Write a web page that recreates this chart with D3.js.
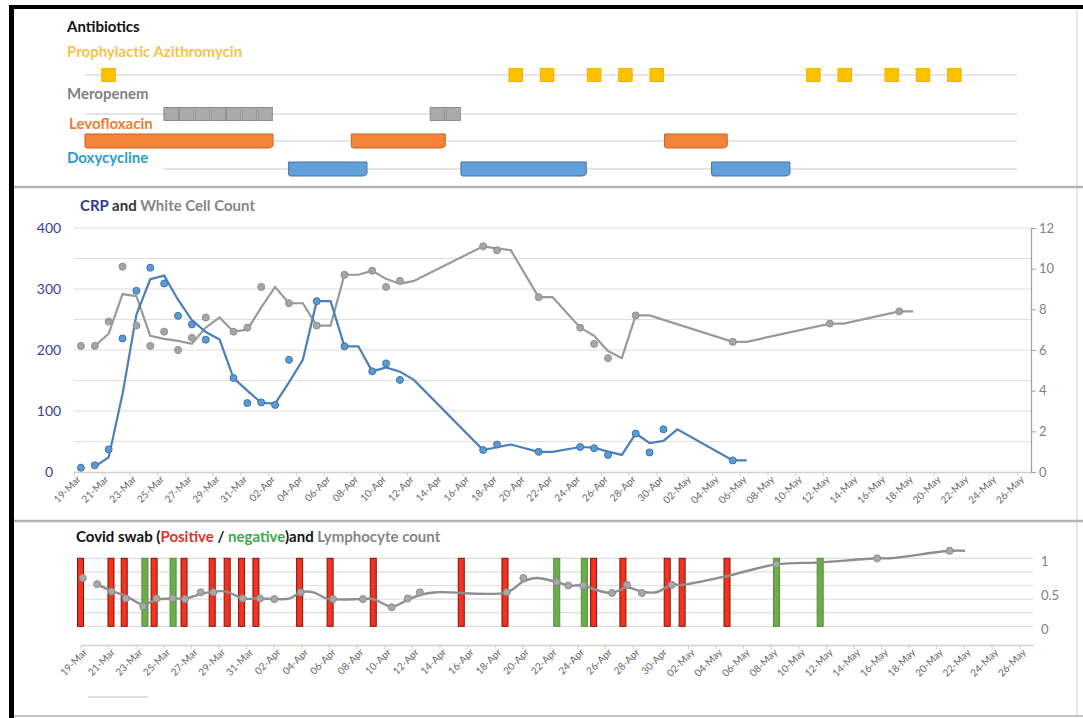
<!DOCTYPE html>
<html>
<head>
<meta charset="utf-8">
<script src="https://cdn.jsdelivr.net/npm/d3@7"></script>
<style>
  body { margin: 0; background: #fff; }
  svg { display: block; font-family: Lato, "Open Sans", sans-serif; }
</style>
</head>
<body>
<svg id="chart" width="1083" height="718"></svg>
<script>
// ---------- data ----------
// antibiotics (one cell per day of treatment)
const azithroDays = ["20-Mar","15-Apr","17-Apr","20-Apr","22-Apr","24-Apr","04-May","06-May","09-May","11-May","13-May"];
const meropenemDays = ["24-Mar","25-Mar","26-Mar","27-Mar","28-Mar","29-Mar","30-Mar","10-Apr","11-Apr"];
const levoStart = ["19-Mar","05-Apr","25-Apr"];
const levoEnd   = ["30-Mar","10-Apr","28-Apr"];
const doxyStart = ["01-Apr","12-Apr","28-Apr"];
const doxyEnd   = ["05-Apr","19-Apr","02-May"];

// CRP (left axis) and white cell count (right axis)
const crpDates = ["19-Mar","20-Mar","21-Mar","22-Mar","23-Mar","24-Mar","25-Mar","26-Mar","27-Mar","28-Mar",
  "30-Mar","31-Mar","01-Apr","02-Apr","03-Apr","05-Apr","07-Apr","09-Apr","10-Apr","11-Apr",
  "17-Apr","18-Apr","21-Apr","24-Apr","25-Apr","26-Apr","28-Apr","29-Apr","30-Apr","05-May"];
const crpValues = [7, 11, 37, 219, 297, 335, 309, 256, 242, 217,
  154, 113, 114, 110, 184, 280, 206, 165, 178, 151,
  36, 45, 33, 41, 39, 28, 63, 32, 70, 19];
const wccDates = ["19-Mar","20-Mar","21-Mar","22-Mar","23-Mar","24-Mar","25-Mar","26-Mar","27-Mar","28-Mar",
  "30-Mar","31-Mar","01-Apr","03-Apr","05-Apr","07-Apr","09-Apr","10-Apr","11-Apr",
  "17-Apr","18-Apr","21-Apr","24-Apr","25-Apr","26-Apr","28-Apr","05-May","12-May","17-May"];
const wccValues = [6.2, 6.2, 7.4, 10.1, 7.2, 6.2, 6.9, 6.0, 6.6, 7.6,
  6.9, 7.1, 9.1, 8.3, 7.2, 9.7, 9.9, 9.1, 9.4,
  11.1, 10.9, 8.6, 7.1, 6.3, 5.6, 7.7, 6.4, 7.3, 7.9];

// covid swabs (+ positive, - negative) with time of swab
const swabTimes = ["19-Mar 00","21-Mar 05","22-Mar 04","23-Mar 16","24-Mar 08","25-Mar 17","26-Mar 12","28-Mar 13",
  "29-Mar 15","30-Mar 16","31-Mar 17","03-Apr 21","06-Apr 02","09-Apr 05","15-Apr 14","18-Apr 18",
  "22-Apr 12","24-Apr 12","25-Apr 04","27-Apr 07","30-Apr 12","01-May 14","04-May 20","08-May 10","11-May 14"];
const swabResults = ["+","+","+","-","+","-","+","+","+","+","+","+","+","+","+","+","-","-","+","+","+","+","+","-","-"];

// lymphocyte count: markers and the smoothed line as drawn
const lymphTimes = ["19-Mar 04","20-Mar 05","21-Mar 06","22-Mar 07","23-Mar 13","24-Mar 12","25-Mar 16","26-Mar 14",
  "27-Mar 17","28-Mar 15","30-Mar 18","01-Apr 00","02-Apr 01","03-Apr 23","06-Apr 07","08-Apr 11",
  "10-Apr 13","11-Apr 17","12-Apr 14","18-Apr 21","20-Apr 02","22-Apr 12","23-Apr 08","24-Apr 10",
  "26-Apr 12","27-Apr 14","28-Apr 16","30-Apr 20","08-May 10","15-May 17","20-May 23"];
const lymphValues = [0.71, 0.62, 0.51, 0.41, 0.29, 0.41, 0.41, 0.40, 0.5, 0.5, 0.41, 0.41, 0.40, 0.5, 0.40, 0.40,
  0.28, 0.41, 0.5, 0.5, 0.71, 0.65, 0.6, 0.6, 0.49, 0.61, 0.49, 0.61, 0.91, 1.0, 1.11];
const lymphLineTimes = ["20-Mar 05","21-Mar 03","22-Mar 08","23-Mar 13","24-Mar 12","25-Mar 17","26-Mar 14","27-Mar 16",
  "28-Mar 15","29-Mar 14","30-Mar 18","01-Apr 00","02-Apr 01","03-Apr 04","03-Apr 23","04-Apr 21","05-Apr 20",
  "08-Apr 11","09-Apr 05","10-Apr 13","11-Apr 17","12-Apr 14","13-Apr 19","18-Apr 21","20-Apr 02","21-Apr 01",
  "22-Apr 12","23-Apr 08","24-Apr 10","25-Apr 10","26-Apr 12","27-Apr 14","28-Apr 16","29-Apr 17","30-Apr 20",
  "01-May 14","04-May 20","08-May 10","11-May 14","15-May 17","16-May 16","20-May 23","22-May 02"];
const lymphLineValues = [0.62, 0.53, 0.44, 0.32, 0.39, 0.41, 0.41, 0.47, 0.51, 0.51, 0.41, 0.41, 0.40, 0.41, 0.5, 0.5, 0.41,
  0.40, 0.40, 0.29, 0.39, 0.46, 0.5, 0.5, 0.66, 0.71, 0.65, 0.6, 0.6, 0.53, 0.49, 0.57, 0.51, 0.5, 0.61,
  0.61, 0.74, 0.91, 0.94, 1.0, 1.0, 1.11, 1.11];

// ---------- helpers ----------
const parseDay = s => d3.utcParse("%d-%b %Y")(s + " 2020");
const parseTime = s => d3.utcParse("%d-%b %H %Y")(s + " 2020");
const fmt = d3.utcFormat("%d-%b");
const noon = d => d3.utcHour.offset(d, 12);

// Excel 2-period moving average trendline on a daily date axis
function movingAverage(dates, values) {
  const byDay = new Map(dates.map((d, i) => [+d, values[i]]));
  const out = [];
  const last = d3.utcDay.offset(dates[dates.length - 1], 1);
  for (let t = d3.utcDay.offset(dates[0], 1); t <= last; t = d3.utcDay.offset(t, 1)) {
    const w = [byDay.get(+d3.utcDay.offset(t, -1)), byDay.get(+t)].filter(v => v != null);
    if (w.length) out.push({date: t, value: d3.mean(w)});
  }
  return out;
}

const svg = d3.select("#chart");
const W = 1083, H = 718;

svg.append("rect").attr("width", W).attr("height", H).attr("fill", "#fff");

// ---------- frame ----------
svg.append("line").attr("x1", 1077).attr("x2", 1077).attr("y1", 10).attr("y2", 716)
  .attr("stroke", "#d4d4d4");
svg.append("line").attr("x1", 14).attr("x2", W).attr("y1", 716).attr("y2", 716)
  .attr("stroke", "#c4c4c4").attr("stroke-width", 2);
[187, 521].forEach(y => svg.append("line")
  .attr("x1", 14).attr("x2", W).attr("y1", y).attr("y2", y)
  .attr("stroke", "#b4b4b4").attr("stroke-width", 2.5));
svg.append("rect").attr("x", 9).attr("y", 5).attr("width", W - 9).attr("height", 4).attr("fill", "#000");
svg.append("rect").attr("x", 9).attr("y", 5).attr("width", 5).attr("height", H - 5).attr("fill", "#000");

// ---------- antibiotics panel ----------
const xTop = d3.scaleUtc()
  .domain([parseDay("19-Mar"), parseTime("17-May 12")])
  .range([85, 1017]);
const dayW = xTop(parseDay("20-Mar")) - xTop(parseDay("19-Mar"));

const rowY = {azithro: 75, meropenem: 114, levo: 141, doxy: 169};
const rowStart = {azithro: "19-Mar", meropenem: "19-Mar", levo: "19-Mar", doxy: "24-Mar"};

const topG = svg.append("g");
Object.keys(rowY).forEach(k => topG.append("line")
  .attr("x1", xTop(parseDay(rowStart[k]))).attr("x2", xTop.range()[1])
  .attr("y1", rowY[k]).attr("y2", rowY[k])
  .attr("stroke", "#dcdcdc").attr("stroke-width", 1.3));

const labels = [
  {text: "Antibiotics", color: "#111", x: 67, y: 32},
  {text: "Prophylactic Azithromycin", color: "#f6c344", x: 67, y: 57},
  {text: "Meropenem", color: "#7f7f7f", x: 67, y: 99},
  {text: "Levofloxacin", color: "#ed7d31", x: 69, y: 129},
  {text: "Doxycycline", color: "#2b9bd6", x: 67, y: 163}
];
topG.selectAll("text.lab").data(labels).join("text")
  .attr("x", d => d.x).attr("y", d => d.y)
  .attr("fill", d => d.color)
  .attr("font-size", 15).attr("font-weight", 700)
  .text(d => d.text);

topG.selectAll("rect.azi").data(azithroDays.map(parseDay)).join("rect")
  .attr("x", d => xTop(noon(d)) - 6.75).attr("y", rowY.azithro - 6.5)
  .attr("width", 13.5).attr("height", 13)
  .attr("fill", "#ffc000").attr("stroke", "#efb300");

topG.selectAll("rect.mero").data(meropenemDays.map(parseDay)).join("rect")
  .attr("x", d => xTop(d) + 0.6).attr("y", rowY.meropenem - 6.5)
  .attr("width", dayW - 1.2).attr("height", 13)
  .attr("fill", "#aaaaaa").attr("stroke", "#8c8c8c");

// Gantt bar with the curled lower-right end
function course(x0, x1, yc) {
  const t = yc - 7, b = yc + 7;
  return `M${x0},${t}H${x1}V${t + 8}Q${x1 + 1.5},${b} ${x1 - 5},${b}H${x0 + 2}Q${x0},${b} ${x0},${b - 2}Z`;
}
function courses(starts, ends, yc, fill, stroke) {
  topG.selectAll(null).data(starts.map((s, i) => [parseDay(s), parseDay(ends[i])])).join("path")
    .attr("d", d => course(xTop(d[0]), xTop(d3.utcDay.offset(d[1], 1)), yc))
    .attr("fill", fill).attr("stroke", stroke);
}
courses(levoStart, levoEnd, rowY.levo, "#f4843a", "#c9621d");
courses(doxyStart, doxyEnd, rowY.doxy, "#62a0db", "#3f74a8");

// ---------- CRP / WCC panel ----------
const x = d3.scaleUtc().domain([parseDay("19-Mar"), parseDay("27-May")]).range([74, 1031]);
const yL = d3.scaleLinear().domain([0, 400]).range([472, 228]);
const yR = d3.scaleLinear().domain([0, 12]).range([472, 228]);
const ticks = d3.utcDay.range(parseDay("19-Mar"), parseDay("27-May"), 2);

const midG = svg.append("g");
midG.selectAll("line.grid").data(d3.range(50, 401, 50)).join("line")
  .attr("x1", x.range()[0]).attr("x2", x.range()[1])
  .attr("y1", d => yL(d)).attr("y2", d => yL(d))
  .attr("stroke", "#dedede").attr("stroke-width", 1.2);

midG.append("text").attr("x", 80).attr("y", 211)
  .attr("font-size", 15).attr("font-weight", 700)
  .call(t => {
    t.append("tspan").attr("fill", "#2f3a8f").text("CRP");
    t.append("tspan").attr("fill", "#333").text(" and ");
    t.append("tspan").attr("fill", "#858585").text("White Cell Count");
  });

midG.selectAll("text.yl").data(d3.range(0, 401, 100)).join("text")
  .attr("x", 49).attr("y", d => yL(d)).attr("dy", "0.35em")
  .attr("text-anchor", "middle").attr("font-size", 14)
  .attr("fill", "#3b3f9a").text(d => d);

const halfDay = x(parseDay("20-Mar")) - x(parseDay("19-Mar"));
const gx = midG.append("g").attr("transform", `translate(0,${yL(0)})`)
  .call(d3.axisBottom(x).tickValues(ticks).tickSize(4).tickSizeOuter(0).tickFormat(fmt));
gx.select(".domain").attr("stroke", "#d0d0d0").attr("stroke-width", 1.3);
gx.selectAll(".tick line").attr("stroke", "#cfcfcf");
gx.selectAll(".tick text")
  .attr("y", 0).attr("dy", 0)
  .attr("text-anchor", "end")
  .attr("transform", `translate(${halfDay / 2},8) rotate(-45)`)
  .attr("fill", "#666").attr("font-size", 10).attr("font-family", "Lato, sans-serif");

const gyR = midG.append("g").attr("transform", `translate(${x.range()[1]},0)`)
  .call(d3.axisRight(yR).tickValues(d3.range(0, 13, 2)).tickSize(5).tickSizeOuter(0).tickPadding(3));
gyR.select(".domain").attr("stroke", "#a0a0a0").attr("stroke-width", 1.3);
gyR.selectAll(".tick line").attr("stroke", "#a0a0a0");
gyR.selectAll(".tick text").attr("fill", "#7f7f7f").attr("font-size", 13).attr("font-family", "Lato, sans-serif");

const crp = crpDates.map((d, i) => ({date: parseDay(d), value: crpValues[i]}));
const wcc = wccDates.map((d, i) => ({date: parseDay(d), value: wccValues[i]}));
const crpAvg = movingAverage(crp.map(d => d.date), crpValues);
const wccAvg = movingAverage(wcc.map(d => d.date), wccValues);

midG.append("path").datum(wccAvg)
  .attr("fill", "none").attr("stroke", "#999").attr("stroke-width", 2.2)
  .attr("d", d3.line().x(d => x(noon(d.date))).y(d => yR(d.value)));
midG.append("path").datum(crpAvg)
  .attr("fill", "none").attr("stroke", "#4a7fba").attr("stroke-width", 2.2)
  .attr("d", d3.line().x(d => x(noon(d.date))).y(d => yL(d.value)));

midG.selectAll("circle.wcc").data(wcc).join("circle")
  .attr("cx", d => x(noon(d.date))).attr("cy", d => yR(d.value)).attr("r", 3.5)
  .attr("fill", "#a5a5a5").attr("stroke", "#8f8f8f");
midG.selectAll("circle.crp").data(crp).join("circle")
  .attr("cx", d => x(noon(d.date))).attr("cy", d => yL(d.value)).attr("r", 3.5)
  .attr("fill", "#5b9bd5").attr("stroke", "#3f72a6");

// ---------- swab / lymphocyte panel ----------
const xB = d3.scaleUtc().domain([parseDay("19-Mar"), parseDay("27-May")]).range([80.5, 1033]);
const yB = d3.scaleLinear().domain([0, 1]).range([626.3, 558.3]);

const botG = svg.append("g");
botG.selectAll("line.grid").data(d3.range(0, 1.01, 0.2)).join("line")
  .attr("x1", xB.range()[0]).attr("x2", xB.range()[1])
  .attr("y1", d => yB(d)).attr("y2", d => yB(d))
  .attr("stroke", "#dedede").attr("stroke-width", 1.2);

botG.append("text").attr("x", 76).attr("y", 542)
  .attr("font-size", 15).attr("font-weight", 700)
  .call(t => {
    t.append("tspan").attr("fill", "#111").text("Covid swab (");
    t.append("tspan").attr("fill", "#e2312a").text("Positive");
    t.append("tspan").attr("fill", "#111").text(" / ");
    t.append("tspan").attr("fill", "#3aa84a").text("negative");
    t.append("tspan").attr("fill", "#111").text(")and ");
    t.append("tspan").attr("fill", "#858585").text("Lymphocyte count");
  });

botG.selectAll("text.yr").data([0, 0.5, 1]).join("text")
  .attr("x", 1041).attr("y", d => yB(d) + 3).attr("dy", "0.35em")
  .attr("font-size", 13).attr("fill", "#7f7f7f").text(d => d);

const halfDayB = xB(parseDay("20-Mar")) - xB(parseDay("19-Mar"));
const gxB = botG.append("g").attr("transform", "translate(0,645)")
  .call(d3.axisBottom(xB).tickValues(ticks).tickSize(4).tickSizeOuter(0).tickFormat(fmt));
gxB.select(".domain").attr("stroke", "#d0d0d0").attr("stroke-width", 1.3);
gxB.selectAll(".tick line").attr("stroke", "#cfcfcf");
gxB.selectAll(".tick text")
  .attr("y", 0).attr("dy", 0)
  .attr("text-anchor", "end")
  .attr("transform", `translate(${halfDayB / 2},8) rotate(-45)`)
  .attr("fill", "#666").attr("font-size", 10).attr("font-family", "Lato, sans-serif");

const swabs = swabTimes.map((t, i) => ({time: parseTime(t), pos: swabResults[i] === "+"}));
botG.selectAll("rect.swab").data(swabs).join("rect")
  .attr("x", d => xB(d.time) - 3).attr("width", 6)
  .attr("y", yB(1)).attr("height", yB(0) - yB(1))
  .attr("fill", d => d.pos ? "#f5321e" : "#6aad4a")
  .attr("stroke", d => d.pos ? "#7a1410" : "#548c38").attr("stroke-width", 1);

const lymphLine = lymphLineTimes.map((t, i) => ({time: parseTime(t), value: lymphLineValues[i]}));
botG.append("path").datum(lymphLine)
  .attr("fill", "none").attr("stroke", "#8e8e8e").attr("stroke-width", 2.4)
  .attr("d", d3.line().curve(d3.curveCatmullRom.alpha(0.5)).x(d => xB(d.time)).y(d => yB(d.value)));

const lymph = lymphTimes.map((t, i) => ({time: parseTime(t), value: lymphValues[i]}));
botG.selectAll("circle.ly").data(lymph).join("circle")
  .attr("cx", d => xB(d.time)).attr("cy", d => yB(d.value)).attr("r", 3.5)
  .attr("fill", "#a8a8a8").attr("stroke", "#8a8a8a");

// small scroll mark under the dates
botG.append("line").attr("x1", 88).attr("x2", 148).attr("y1", 697).attr("y2", 697)
  .attr("stroke", "#d6d6d6").attr("stroke-width", 1.5);
</script>
</body>
</html>
